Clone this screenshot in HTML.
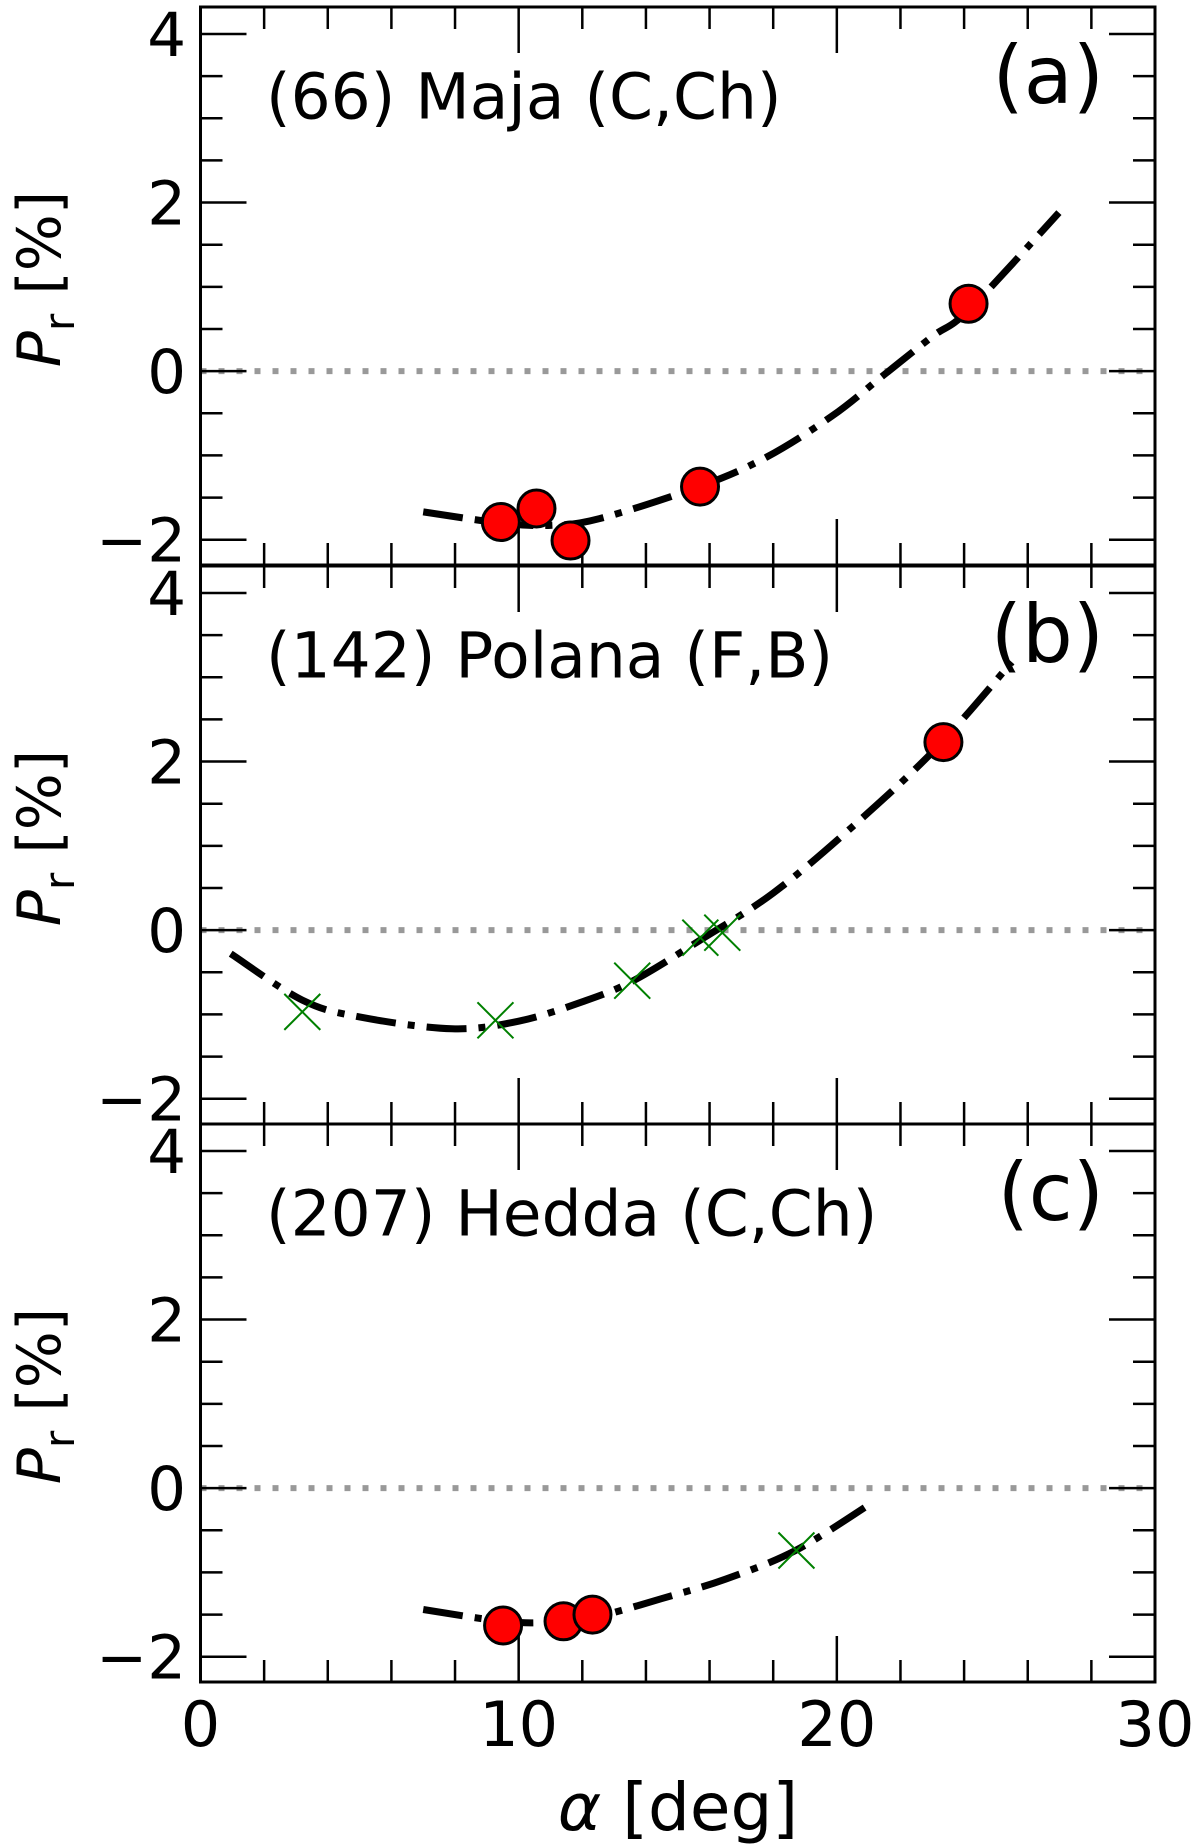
<!DOCTYPE html>
<html><head><meta charset="utf-8">
<style>
html,body{margin:0;padding:0;background:#fff;}
svg{display:block;font-family:"DejaVu Sans","Liberation Sans",sans-serif;}
</style></head>
<body>
<svg id="chart" width="1200" height="1848" viewBox="0 0 1200 1848" xmlns="http://www.w3.org/2000/svg"></svg>
<script>
// ---- data ----
const xTicks = [0, 10, 20, 30];
const yTicks = [4, 2, 0, -2];
const panelIds = ["a", "b", "c"];
const panelTitles = ["(66) Maja (C,Ch)", "(142) Polana (F,B)", "(207) Hedda (C,Ch)"];
const panelLetters = ["(a)", "(b)", "(c)"];

const redAlphaA = [9.44, 10.56, 11.63, 15.7, 24.14];
const redPrA = [-1.79, -1.63, -2.01, -1.37, 0.80];
const redAlphaB = [23.35];
const redPrB = [2.23];
const redAlphaC = [9.51, 11.41, 12.32];
const redPrC = [-1.63, -1.58, -1.50];

const greenAlphaA = [];
const greenPrA = [];
const greenAlphaB = [3.2, 9.27, 13.57, 15.71, 16.4];
const greenPrB = [-0.97, -1.07, -0.60, -0.09, -0.03];
const greenAlphaC = [18.73];
const greenPrC = [-0.74];

const fitAlphaA = [7, 9.4, 11, 12.54, 15.68, 17.79, 19.86, 21.43, 23.0, 24.16, 26.98];
const fitPrA = [-1.67, -1.80, -1.83, -1.75, -1.37, -1.02, -0.53, -0.06, 0.41, 0.73, 1.88];
const fitAlphaB = [0.95, 3.2, 5, 7.9, 10, 12, 13.6, 15.7, 18, 20.5, 23.1, 25.5];
const fitPrB = [-0.28, -0.83, -1.03, -1.17, -1.08, -0.85, -0.60, -0.12, 0.44, 1.23, 2.15, 3.18];
const fitAlphaC = [7, 9.5, 11, 12.5, 14.5, 16.5, 18.7, 21];
const fitPrC = [-1.44, -1.58, -1.59, -1.52, -1.31, -1.08, -0.74, -0.2];

const redX = [redAlphaA, redAlphaB, redAlphaC], redY = [redPrA, redPrB, redPrC];
const grnX = [greenAlphaA, greenAlphaB, greenAlphaC], grnY = [greenPrA, greenPrB, greenPrC];
const fitX = [fitAlphaA, fitAlphaB, fitAlphaC], fitY = [fitPrA, fitPrB, fitPrC];

// ---- layout ----
const NS = "http://www.w3.org/2000/svg";
const svg = document.getElementById("chart");
const X0 = 200.5, X1 = 1155, XMIN = 0, XMAX = 30;
const panelTop = [7, 566, 1124], PH = 558;
const YMIN = -2.3, YMAX = 4.32;
function sx(v){ return X0 + (v - XMIN) / (XMAX - XMIN) * (X1 - X0); }
function syF(p){ const t = panelTop[p]; return v => t + (YMAX - v) / (YMAX - YMIN) * PH; }
function mk(tag, attrs, parent){ const e = document.createElementNS(NS, tag); for (const k in attrs) e.setAttribute(k, attrs[k]); (parent||svg).appendChild(e); return e; }

function catmull(pts){
  let d = `M${pts[0][0]},${pts[0][1]}`;
  for (let i=0;i<pts.length-1;i++){
    const p0=pts[Math.max(0,i-1)], p1=pts[i], p2=pts[i+1], p3=pts[Math.min(pts.length-1,i+2)];
    const c1=[p1[0]+(p2[0]-p0[0])/6, p1[1]+(p2[1]-p0[1])/6];
    const c2=[p2[0]-(p3[0]-p1[0])/6, p2[1]-(p3[1]-p1[1])/6];
    d += ` C${c1[0]},${c1[1]} ${c2[0]},${c2[1]} ${p2[0]},${p2[1]}`;
  }
  return d;
}

for (let p=0;p<3;p++){
  const sy = syF(p), top = panelTop[p], bot = top + PH;
  const g = mk("g", {});
  
  

  const z = mk("line", {x1:X0, x2:X1, y1:sy(0), y2:sy(0), stroke:"#999", "stroke-width":6, "stroke-dasharray":"6 12"}, g);
  
  

  for (let v=XMIN; v<=XMAX; v+=2){
    const maj = v % 10 === 0, L = maj ? 46 : 22;
    if (v===XMIN || v===XMAX) continue;
    mk("line", {x1:sx(v), x2:sx(v), y1:bot, y2:bot-L, stroke:"#000", "stroke-width":2.5}, g);
    mk("line", {x1:sx(v), x2:sx(v), y1:top, y2:top+L, stroke:"#000", "stroke-width":2.5}, g);
  }
  for (let v=-2; v<=4.001; v+=0.5){
    const maj = Math.abs(v - Math.round(v/2)*2) < 1e-6, L = maj ? 46 : 22;
    mk("line", {x1:X0, x2:X0+L, y1:sy(v), y2:sy(v), stroke:"#000", "stroke-width":2.5}, g);
    mk("line", {x1:X1, x2:X1-L, y1:sy(v), y2:sy(v), stroke:"#000", "stroke-width":2.5}, g);
  }
  yTicks.forEach(v=>{
    const t = mk("text", {x:186, y:sy(v)+22, "text-anchor":"end", "font-size":61, fill:"#000"}, g);
    t.textContent = v < 0 ? "\u2212" + Math.abs(v) : String(v);
    
    
  });

  const yl = mk("text", {transform:`translate(60,${top+PH/2-7}) rotate(-90)`, "text-anchor":"middle", "font-size":60, fill:"#000"}, g);
  yl.innerHTML = '<tspan font-style="italic">P</tspan><tspan font-size="42" dy="14">r</tspan><tspan dy="-14"> [%]</tspan>';
  
  

  const pts = fitX[p].map((x,i)=>[sx(x), sy(fitY[p][i])]);
  const c = mk("path", {d:catmull(pts), fill:"none", stroke:"#000", "stroke-width":7, "stroke-dasharray":"40 12 7 12"}, g);
  
  

  grnX[p].forEach((x,i)=>{
    const cx = sx(x), cy = sy(grnY[p][i]), h = 18;
    const m = mk("path", {d:`M${cx-h},${cy-h}L${cx+h},${cy+h}M${cx-h},${cy+h}L${cx+h},${cy-h}`, stroke:"#008000", "stroke-width":2, fill:"none"}, g);
    
    
  });
  redX[p].forEach((x,i)=>{
    const m = mk("circle", {cx:sx(x), cy:sy(redY[p][i]), r:18.5, fill:"#ff0000", stroke:"#000", "stroke-width":3}, g);
    
    
  });

  const tt = mk("text", {x:266, y:top+111.6, "font-size":63, fill:"#000"}, g);
  tt.textContent = panelTitles[p];
  
  
  const lt = mk("text", {x:1104, y:top+96, "text-anchor":"end", "font-size":80, fill:"#000"}, g);
  lt.textContent = panelLetters[p];
  
  

  const f = mk("rect", {x:X0, y:top, width:X1-X0, height:PH, fill:"none", stroke:"#000", "stroke-width":3}, g);
  
  
}

xTicks.forEach(v=>{
  const t = mk("text", {x:sx(v), y:1746, "text-anchor":"middle", "font-size":62, fill:"#000"});
  t.textContent = String(v);
  
  
});
const xl = mk("text", {x:678, y:1830, "text-anchor":"middle", "font-size":66, fill:"#000"});
xl.innerHTML = '<tspan font-style="italic">\u03b1</tspan> [deg]';


</script>
</body></html>
